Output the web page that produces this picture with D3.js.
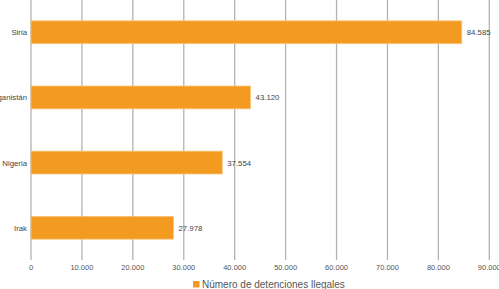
<!DOCTYPE html>
<html>
<head>
<meta charset="utf-8">
<script src="https://cdn.jsdelivr.net/npm/d3@7"></script>
<style>
  body { margin: 0; background: #fff; }
  svg { display: block; font-family: "Liberation Sans", Arial, sans-serif; }
</style>
</head>
<body>
<script>
const countries = ["Siria", "Afganistán", "Nigeria", "Irak"];
const values = [84585, 43120, 37554, 27978];
const xTicks = [0, 10000, 20000, 30000, 40000, 50000, 60000, 70000, 80000, 90000];
const seriesName = "Número de detenciones llegales";

const width = 499, height = 289;
const margin = {left: 31, right: 10, top: 0, bottom: 29};
const fmt = d => d3.format(",")(d).replace(/,/g, ".");

const svg = d3.select("body").append("svg").attr("width", width).attr("height", height);

const xScale = d3.scaleLinear().domain([0, 90000]).range([margin.left, 489.3]);
const yScale = d3.scaleBand().domain(countries).range([0, height - margin.bottom]).paddingInner(0.65).paddingOuter(0.32);

// gridlines
svg.append("g")
   .selectAll("line")
   .data(xTicks)
   .join("line")
   .attr("x1", d => xScale(d)).attr("x2", d => xScale(d))
   .attr("y1", 0).attr("y2", height - margin.bottom)
   .attr("stroke", "#b3b3b3")
   .attr("stroke-width", 1.3);

// x tick labels
svg.append("g")
   .selectAll("text")
   .data(xTicks)
   .join("text")
   .attr("x", d => xScale(d))
   .attr("y", 270)
   .attr("text-anchor", "middle")
   .attr("font-size", 7.5)
   .attr("fill", "#555")
   .text(d => fmt(d));

// bars
const data = countries.map((c, i) => ({c, v: values[i]}));
svg.append("g")
   .selectAll("rect")
   .data(data)
   .join("rect")
   .attr("x", xScale(0))
   .attr("y", d => yScale(d.c))
   .attr("width", d => xScale(d.v) - xScale(0))
   .attr("height", yScale.bandwidth())
   .attr("fill", "#f39a21")
   .attr("stroke", "#f8c27a")
   .attr("stroke-width", 0.8);

// value labels
svg.append("g")
   .selectAll("text")
   .data(data)
   .join("text")
   .attr("x", d => xScale(d.v) + 5)
   .attr("y", d => yScale(d.c) + yScale.bandwidth() / 2 + 3)
   .attr("font-size", 7.8)
   .attr("fill", "#444")
   .text(d => fmt(d.v));

// category labels
svg.append("g")
   .selectAll("text")
   .data(countries)
   .join("text")
   .attr("x", 27)
   .attr("y", d => yScale(d) + yScale.bandwidth() / 2 + 3)
   .attr("text-anchor", "end")
   .attr("font-size", 7.8)
   .attr("fill", "#444")
   .text(d => d);

// legend
const legend = svg.append("g").attr("transform", "translate(193, 281)");
legend.append("rect").attr("width", 6.5).attr("height", 6.5).attr("fill", "#f39a21");
legend.append("text").attr("x", 9).attr("y", 6.5).attr("font-size", 10).attr("fill", "#555").text(seriesName);
</script>
</body>
</html>
